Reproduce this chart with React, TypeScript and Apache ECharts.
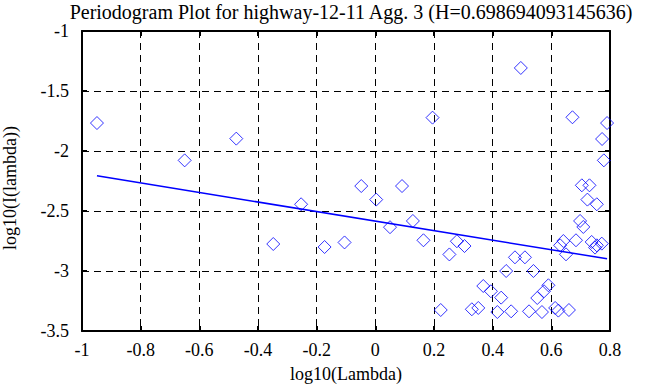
import React, { useEffect, useRef } from "react";
import * as echarts from "echarts";

const titleText = "Periodogram Plot for highway-12-11 Agg. 3 (H=0.698694093145636)";
const xName = "log10(Lambda)";
const yName = "log10(I(lambda))";

const xTicks = { min: -1, max: 0.8, interval: 0.2 };
const yTicks = { min: -3.5, max: -1, interval: 0.5 };

// log10(lambda) values
const logLambda = [
  -0.949, -0.65, -0.474, -0.348, -0.253, -0.173, -0.105, -0.048, 0.003, 0.05,
  0.091, 0.128, 0.164, 0.195, 0.223, 0.2525, 0.278, 0.304, 0.329, 0.351,
  0.368, 0.394, 0.416, 0.429, 0.446, 0.463, 0.476, 0.496, 0.51, 0.524,
  0.539, 0.552, 0.568, 0.575, 0.59, 0.613, 0.624, 0.63, 0.641, 0.65,
  0.66, 0.672, 0.684, 0.698, 0.704, 0.709, 0.723, 0.73, 0.7375, 0.749,
  0.755, 0.755, 0.772, 0.773, 0.779, 0.79,
];
// log10(I(lambda)) values
const logPeriodogram = [
  -1.767, -2.078, -1.897, -2.775, -2.444, -2.8, -2.762, -2.292, -2.405, -2.635,
  -2.292, -2.583, -2.744, -1.722, -3.325, -2.862, -2.752, -2.792, -3.319, -3.308,
  -3.125, -3.169, -3.342, -3.222, -3.0, -3.336, -2.886, -1.308, -2.886, -3.336,
  -3.0, -3.225, -3.342, -3.169, -3.119, -3.308, -3.33, -2.786, -2.75, -2.861,
  -3.325, -1.719, -2.744, -2.583, -2.286, -2.633, -2.405, -2.286, -2.758, -2.805,
  -2.444, -2.786, -2.772, -1.9, -2.078, -1.767,
];
// least-squares fit line end points
const fitX = [-0.949, 0.79];
const fitY = [-2.207, -2.898];

const BLUE = "#0000ff";
const FONT = "Liberation Serif";

export default function App() {
  const ref = useRef<HTMLDivElement>(null);
  useEffect(() => {
    if (!ref.current) return;
    const chart = echarts.init(ref.current, null, { renderer: "svg" });
    const fmt = (v: number) => String(Math.round(v * 10) / 10);
    const axisLine = { show: true, onZero: false, lineStyle: { color: "#000", width: 2 } };
    const tick = { show: true, inside: true, length: 5, lineStyle: { color: "#000", width: 2 } };
    const labelStyle = { color: "#000", fontFamily: FONT, fontSize: 18 };
    chart.setOption({
      animation: false,
      backgroundColor: "#fff",
      title: {
        text: titleText,
        left: 346,
        top: -3,
        textAlign: "center",
        textStyle: { color: "#000", fontFamily: FONT, fontSize: 20, fontWeight: "normal" },
      },
      graphic: [
        {
          type: "text",
          x: 10,
          y: 188,
          rotation: Math.PI / 2,
          style: {
            text: yName,
            fill: "#000",
            font: `18px "${FONT}"`,
            align: "center",
            verticalAlign: "middle",
          },
        },
      ],
      grid: { left: 82, right: 58, top: 31, bottom: 56, containLabel: false, outerBoundsMode: "none" },
      xAxis: [
        {
          type: "value",
          ...xTicks,
          position: "bottom",
          axisLine,
          axisTick: tick,
          axisLabel: { ...labelStyle, margin: 10, formatter: fmt },
          splitLine: { show: true, lineStyle: { color: "#000", width: 1, type: [7, 5] } },
          name: xName,
          nameLocation: "middle",
          nameGap: 34,
          nameTextStyle: labelStyle,
        },
        {
          type: "value",
          ...xTicks,
          position: "top",
          axisLine,
          axisTick: tick,
          axisLabel: { show: false },
          splitLine: { show: false },
        },
      ],
      yAxis: [
        {
          type: "value",
          ...yTicks,
          position: "left",
          axisLine,
          axisTick: tick,
          axisLabel: { ...labelStyle, margin: 13, padding: [7, 0, 0, 0], formatter: fmt },
          splitLine: { show: true, lineStyle: { color: "#000", width: 1, type: [7, 5] } },
        },
        {
          type: "value",
          ...yTicks,
          position: "right",
          axisLine,
          axisTick: tick,
          axisLabel: { show: false },
          splitLine: { show: false },
        },
      ],
      series: [
        {
          type: "scatter",
          xAxisIndex: 0,
          yAxisIndex: 0,
          symbol: "diamond",
          symbolSize: 13,
          itemStyle: { color: "rgba(0,0,0,0)", borderColor: BLUE, borderWidth: 1 },
          data: logLambda.map((x, i) => [x, logPeriodogram[i]]),
        },
        {
          type: "line",
          xAxisIndex: 0,
          yAxisIndex: 0,
          symbol: "none",
          lineStyle: { color: BLUE, width: 1.5 },
          data: fitX.map((x, i) => [x, fitY[i]]),
        },
      ],
    });
    return () => chart.dispose();
  }, []);
  return (
    <div
      ref={ref}
      style={{ position: "fixed", left: 0, top: 0, width: 668, height: 387 }}
    />
  );
}
